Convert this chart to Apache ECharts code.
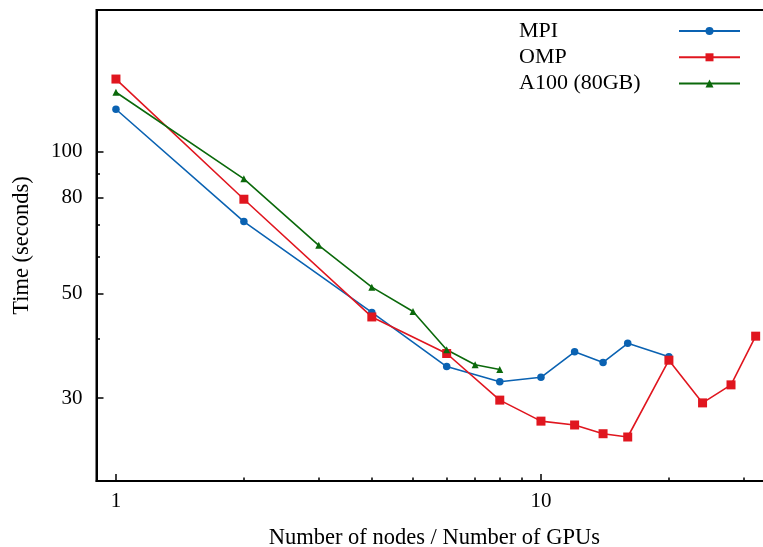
<!DOCTYPE html>
<html>
<head>
<meta charset="utf-8">
<script src="https://cdn.jsdelivr.net/npm/echarts@6/dist/echarts.min.js"></script>
<style>
html, body { margin: 0; padding: 0; background: #fff; }
#main { width: 763px; height: 547px; }
</style>
</head>
<body>
<div id="main"></div>
<script>
// values
var nodesMPI = [1, 2, 4, 6, 8, 10, 12, 14, 16, 20];
var timeMPI = [123.1, 71.1, 45.6, 35.0, 32.5, 33.2, 37.6, 35.7, 39.2, 36.7];
var nodesOMP = [1, 2, 4, 6, 8, 10, 12, 14, 16, 20, 24, 28, 32];
var timeOMP = [142.7, 79.3, 44.6, 37.3, 29.7, 26.8, 26.3, 25.2, 24.8, 36.1, 29.3, 32.0, 40.6];
var gpusA100 = [1, 2, 3, 4, 5, 6, 7, 8];
var timeA100 = [133.8, 87.6, 63.3, 51.6, 45.8, 38.0, 35.3, 34.5];

// ticks
var xMajor = [1, 10];
var xMinor = [2, 3, 4, 5, 6, 7, 8, 9, 20, 30];
var yMajor = [30, 50, 80, 100];
var yMinor = [40, 60, 70, 90];

var font = "'Liberation Serif', 'DejaVu Serif', serif";

function zip(xs, ys) {
    var out = [];
    for (var i = 0; i < xs.length; i++) out.push([xs[i], ys[i]]);
    return out;
}

var myChart = echarts.init(document.getElementById('main'));

var xRange = { min: 0.9, max: 35 };
var yRange = { min: 20, max: 200 };

var option = {
    animation: false,
    grid: {
        left: 96.5,
        top: 10,
        width: 675.7,
        height: 471,
        containLabel: false,
        outerBoundsMode: 'none',
        show: true,
        borderColor: '#000',
        borderWidth: 2
    },
    legend: {
        orient: 'vertical',
        left: 514,
        top: 15,
        align: 'right',
        itemWidth: 61,
        itemHeight: 10,
        itemGap: 4.3,
        formatter: function (name) {
            return '{t|' + name + '}';
        },
        textStyle: {
            fontFamily: font,
            fontSize: 22,
            color: '#000',
            rich: {
                t: { width: 155, align: 'left', fontFamily: font, fontSize: 22, color: '#000', lineHeight: 20 }
            }
        },
        data: ['MPI', 'OMP', 'A100 (80GB)']
    },
    xAxis: [
        {
            type: 'log',
            logBase: 10,
            min: xRange.min,
            max: xRange.max,
            name: 'Number of nodes / Number of GPUs',
            nameLocation: 'middle',
            nameGap: 46,
            nameTextStyle: { fontFamily: font, fontSize: 22.5, color: '#000' },
            axisLine: { lineStyle: { color: '#000', width: 2 } },
            axisTick: { inside: true, length: 7, customValues: xMajor, lineStyle: { color: '#000', width: 1.5 } },
            axisLabel: { customValues: xMajor, margin: 10, fontFamily: font, fontSize: 21, color: '#000' },
            splitLine: { show: false }
        },
        {
            type: 'log',
            logBase: 10,
            min: xRange.min,
            max: xRange.max,
            position: 'bottom',
            axisLine: { show: false },
            axisTick: { inside: true, length: 3.5, customValues: xMinor, lineStyle: { color: '#000', width: 1.5 } },
            axisLabel: { show: false },
            splitLine: { show: false }
        }
    ],
    yAxis: [
        {
            type: 'log',
            logBase: 10,
            min: yRange.min,
            max: yRange.max,
            name: 'Time (seconds)',
            nameLocation: 'middle',
            nameGap: 63,
            nameTextStyle: { fontFamily: font, fontSize: 22.5, color: '#000' },
            axisLine: { lineStyle: { color: '#000', width: 2 } },
            axisTick: { inside: true, length: 7, customValues: yMajor, lineStyle: { color: '#000', width: 1.5 } },
            axisLabel: { customValues: yMajor, margin: 14, fontFamily: font, fontSize: 21, color: '#000' },
            splitLine: { show: false }
        },
        {
            type: 'log',
            logBase: 10,
            min: yRange.min,
            max: yRange.max,
            position: 'left',
            axisLine: { show: false },
            axisTick: { inside: true, length: 3.5, customValues: yMinor, lineStyle: { color: '#000', width: 1.5 } },
            axisLabel: { show: false },
            splitLine: { show: false }
        }
    ],
    series: [
        {
            name: 'MPI',
            type: 'line',
            data: zip(nodesMPI, timeMPI),
            symbol: 'circle',
            symbolSize: 7.5,
            color: '#0a62b2',
            lineStyle: { width: 1.6 }
        },
        {
            name: 'OMP',
            type: 'line',
            data: zip(nodesOMP, timeOMP),
            symbol: 'rect',
            symbolSize: 9,
            color: '#e0161f',
            lineStyle: { width: 1.6 }
        },
        {
            name: 'A100 (80GB)',
            type: 'line',
            data: zip(gpusA100, timeA100),
            symbol: 'triangle',
            symbolSize: 7,
            color: '#0b690b',
            lineStyle: { width: 1.6 }
        }
    ]
};

myChart.setOption(option);
</script>
</body>
</html>
